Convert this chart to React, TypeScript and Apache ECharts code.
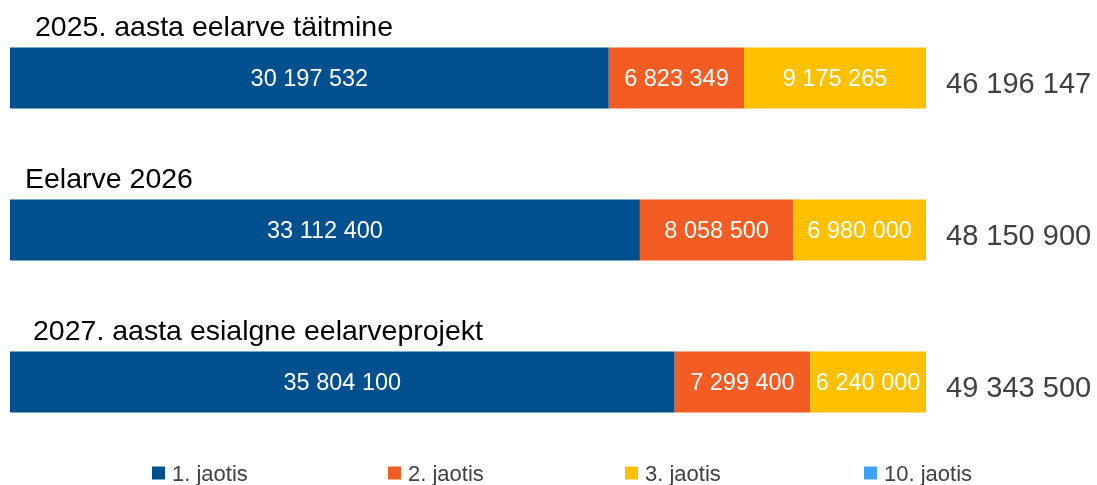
import React, { useEffect, useRef } from "react";
import * as echarts from "echarts";

const categories = [
  "2025. aasta eelarve täitmine",
  "Eelarve 2026",
  "2027. aasta esialgne eelarveprojekt",
];
const seriesNames = ["1. jaotis", "2. jaotis", "3. jaotis", "10. jaotis"];
const jaotis1 = [30197532, 33112400, 35804100];
const jaotis2 = [6823349, 8058500, 7299400];
const jaotis3 = [9175265, 6980000, 6240000];
const jaotis10 = [0, 0, 0];
const totals = [46196147, 48150900, 49343500];

const colors = ["#00508F", "#F35C22", "#FFC000", "#3FA2F7"];
const titleLeft = [35, 25, 33];
const legendLeft = [152, 388, 625, 864];
const FONT = "'Liberation Sans', Arial, sans-serif";

const fmt = (n: number) =>
  Math.round(n).toString().replace(/\B(?=(\d{3})+(?!\d))/g, " ");

export default function App() {
  const ref = useRef<HTMLDivElement>(null);
  useEffect(() => {
    if (!ref.current) return;
    const chart = echarts.init(ref.current, null, { renderer: "svg" });
    const raw = [jaotis1, jaotis2, jaotis3, jaotis10];
    const sums = categories.map((_, i) => raw.reduce((s, arr) => s + arr[i], 0));
    const series = raw.map((arr, si) => ({
      name: seriesNames[si],
      type: "bar",
      stack: "total",
      barWidth: 61,
      itemStyle: { color: colors[si] },
      data: arr.map((v, i) => (v / sums[i]) * 100),
      label:
        si < 3
          ? {
              show: true,
              position: "inside",
              color: "#FFFFFF",
              fontSize: 23.5,
              fontFamily: FONT,
              formatter: (p: any) => fmt(arr[p.dataIndex]),
            }
          : {
              show: true,
              position: "right",
              distance: 20,
              offset: [0, 5],
              color: "#404040",
              fontSize: 29,
              fontFamily: FONT,
              formatter: (p: any) => fmt(totals[p.dataIndex]),
            },
    }));
    chart.setOption({
      animation: false,
      grid: { left: 10, right: 171, top: 2, bottom: 27, containLabel: false },
      xAxis: { type: "value", min: 0, max: 100, show: false },
      yAxis: {
        type: "category",
        data: categories,
        inverse: true,
        show: false,
      },
      legend: seriesNames.map((n, i) => ({
        data: [{ name: n, icon: "rect" }],
        left: legendLeft[i],
        top: 462,
        padding: 0,
        itemWidth: 13,
        itemHeight: 13,
        textStyle: {
          color: "#404040",
          fontSize: 22,
          fontFamily: FONT,
          padding: [0, 0, 0, 2],
        },
      })),
      series,
    });
    const graphic = categories.map((c, i) => {
      const y = chart.convertToPixel({ yAxisIndex: 0 }, c) as number;
      return {
        type: "text",
        left: titleLeft[i],
        top: y - 51 - 16,
        style: {
          text: c,
          fontSize: 28.5,
          fontFamily: FONT,
          fill: "#000000",
        },
      };
    });
    chart.setOption({ graphic });
    return () => chart.dispose();
  }, []);
  return (
    <div
      ref={ref}
      style={{ position: "fixed", left: 0, top: 0, width: 1097, height: 485 }}
    />
  );
}
